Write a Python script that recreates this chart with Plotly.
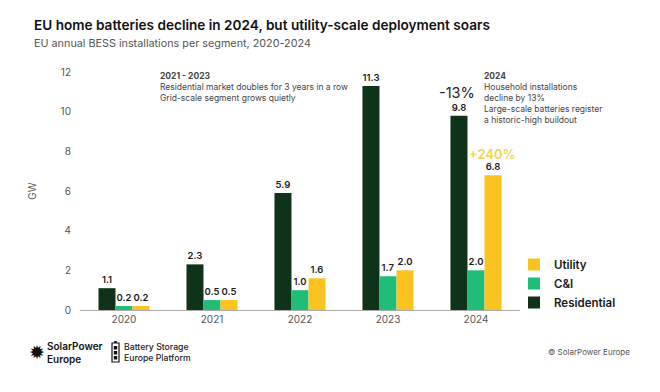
import plotly.graph_objects as go

years = ["2020", "2021", "2022", "2023", "2024"]
residential = [1.1, 2.3, 5.9, 11.3, 9.8]
cni = [0.2, 0.5, 1.0, 1.7, 2.0]
utility = [0.2, 0.5, 1.6, 2.0, 6.8]

C_RES = "#0e3318"
C_CNI = "#1fbd78"
C_UTI = "#fbc31f"

FONT = "Inter, Roboto, sans-serif"
W, H = 660, 392
L, R, T, B = 80, 520, 72, 310


def px(x):
    return (x - L) / (R - L)


def py(y):
    return (B - y) / (B - T)


fig = go.Figure()
for name, vals, col in [("Residential", residential, C_RES),
                        ("C&I", cni, C_CNI),
                        ("Utility", utility, C_UTI)]:
    fig.add_trace(go.Bar(
        x=years, y=vals, name=name, marker=dict(color=col, line=dict(width=0)),
        text=[f"{v:.1f}" for v in vals], textposition="outside",
        constraintext="none", cliponaxis=False,
        textfont=dict(family=FONT, size=9.5, color="#1a1a1a", weight=600),
    ))

ann = []
ann.append(dict(xref="paper", yref="paper", x=px(158), y=py(69), xanchor="left", yanchor="top",
                align="left", showarrow=False,
                text="<b>2021 - 2023</b><br>Residential market doubles for 3 years in a row<br>Grid-scale segment grows quietly",
                font=dict(family=FONT, size=8.5, color="#444")))
ann.append(dict(xref="paper", yref="paper", x=px(482), y=py(69), xanchor="left", yanchor="top",
                align="left", showarrow=False,
                text="<b>2024</b><br>Household installations<br>decline by 13%<br>Large-scale batteries register<br>a historic-high buildout",
                font=dict(family=FONT, size=8.5, color="#444")))
ann.append(dict(xref="paper", yref="paper", x=px(457), y=py(92), xanchor="center", yanchor="middle",
                showarrow=False, text="-13%", font=dict(family=FONT, size=14.5, color="#222")))
ann.append(dict(xref="paper", yref="paper", x=px(492), y=py(154), xanchor="center", yanchor="middle",
                showarrow=False, text="+240%", font=dict(family=FONT, size=13, color="#f2d255", weight=600)))
# Title & subtitle
ann.append(dict(xref="paper", yref="paper", x=px(32), y=py(25), xanchor="left", yanchor="middle",
                showarrow=False, text="EU home batteries decline in 2024, but utility-scale deployment soars",
                font=dict(family=FONT, size=13.6, color="#111", weight=600)))
ann.append(dict(xref="paper", yref="paper", x=px(32), y=py(44), xanchor="left", yanchor="middle",
                showarrow=False, text="EU annual BESS installations per segment, 2020-2024",
                font=dict(family=FONT, size=10.8, color="#555")))
# Footer
ann.append(dict(xref="paper", yref="paper", x=px(37), y=py(352), xanchor="center", yanchor="middle",
                showarrow=False, text="✹", font=dict(family="DejaVu Sans", size=19, color="#111")))
ann.append(dict(xref="paper", yref="paper", x=px(45), y=py(352), xanchor="left", yanchor="middle",
                align="left", showarrow=False, text="SolarPower<br>Europe",
                font=dict(family=FONT, size=10, color="#111", weight=600)))
ann.append(dict(xref="paper", yref="paper", x=px(122), y=py(352), xanchor="left", yanchor="middle",
                align="left", showarrow=False, text="Battery Storage<br>Europe Platform",
                font=dict(family=FONT, size=8.7, color="#222", weight=500)))
ann.append(dict(xref="paper", yref="paper", x=px(632), y=py(352), xanchor="right", yanchor="middle",
                showarrow=False, text="© SolarPower Europe",
                font=dict(family=FONT, size=8, color="#555")))

shapes = [
    dict(type="rect", xref="paper", yref="paper", x0=px(112), x1=px(119), y0=py(362), y1=py(343),
         line=dict(color="#111", width=1.2), fillcolor="white"),
    dict(type="rect", xref="paper", yref="paper", x0=px(114.2), x1=px(116.8), y0=py(343), y1=py(341),
         line=dict(width=0), fillcolor="#111"),
]
for yy in [(346, 349.5), (351, 354.5), (356, 359.5)]:
    shapes.append(dict(type="rect", xref="paper", yref="paper", x0=px(113.8), x1=px(117.2),
                       y0=py(yy[1]), y1=py(yy[0]), line=dict(width=0), fillcolor="#111"))

fig.update_layout(
    width=W, height=H,
    margin=dict(l=L, r=W - R, t=T, b=H - B, pad=0, autoexpand=False),
    paper_bgcolor="white", plot_bgcolor="white",
    barmode="group", bargap=0.42, bargroupgap=0,
    font=dict(family=FONT, color="#555"),
    showlegend=True,
    legend=dict(x=px(514), y=py(250), xanchor="left", yanchor="top", traceorder="reversed",
                font=dict(family=FONT, size=11.5, color="#1a1a1a", weight=600), itemwidth=30,
                bgcolor="rgba(0,0,0,0)"),
    xaxis=dict(showline=True, linecolor="#aaa", linewidth=1, ticks="", showgrid=False,
               tickfont=dict(family=FONT, size=10, color="#555")),
    yaxis=dict(range=[0, 12], dtick=2, showgrid=False, zeroline=False, showline=False,
               ticks="", ticklabelstandoff=8,
               tickfont=dict(family=FONT, size=10, color="#555"),
               title=dict(text="GW", font=dict(family=FONT, size=10, color="#555"), standoff=22)),
    annotations=ann, shapes=shapes,
)

fig.write_html("out.html", config={"displayModeBar": False},
               post_script="document.body.style.margin='0';")
